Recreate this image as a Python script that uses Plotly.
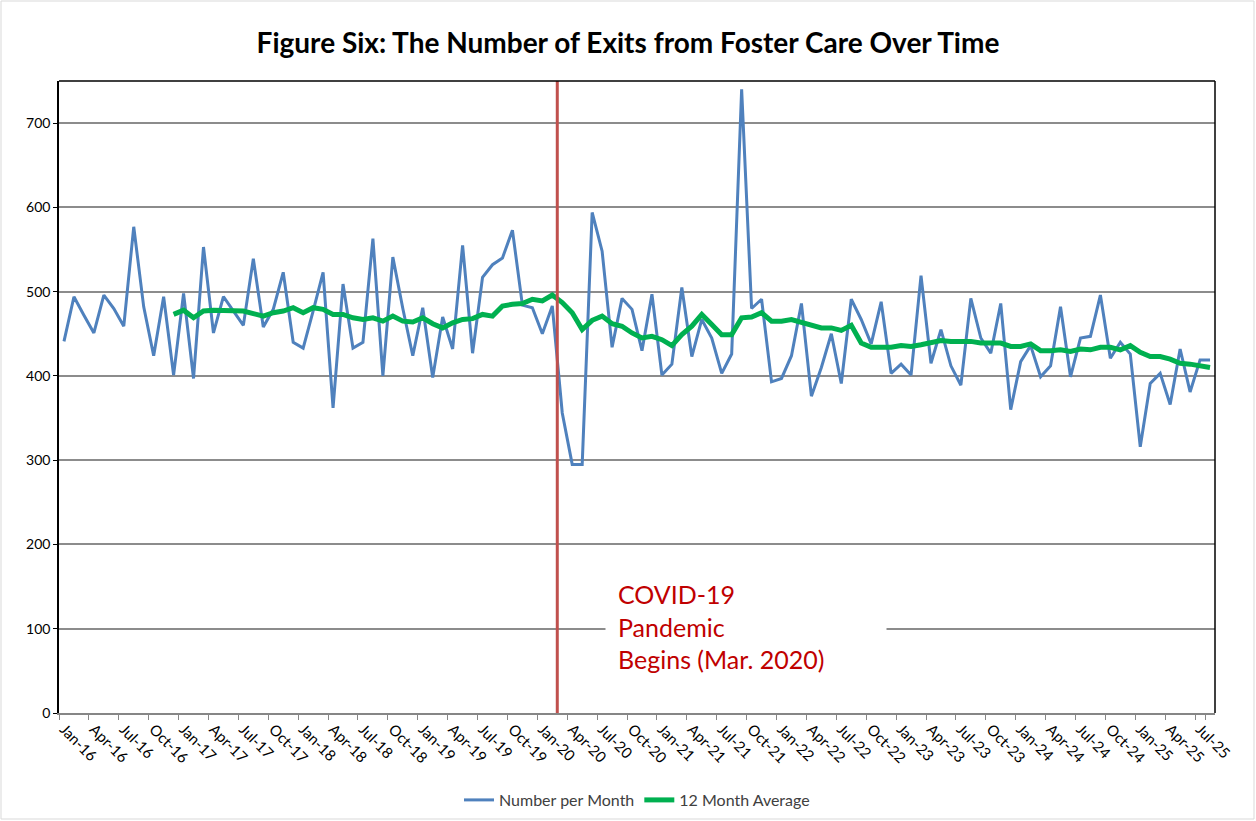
import plotly.graph_objects as go
import pandas as pd

# Categories: monthly, Jan-16 .. Aug-25
months = pd.date_range("2016-01-01", periods=116, freq="MS").strftime("%b-%y").tolist()

# Number of exits per month
exits = [
    441, 494, 472, 451, 496, 480, 459, 577, 482, 424, 494, 401,
    498, 397, 553, 451, 494, 477, 460, 539, 458, 479, 523, 440,
    433, 477, 523, 362, 509, 433, 440, 563, 400, 541, 480, 424,
    481, 398, 470, 432, 555, 427, 517, 532, 540, 573, 484, 481,
    450, 483, 356, 295, 295, 594, 548, 434, 492, 479, 430, 497,
    401, 414, 505, 423, 467, 445, 403, 426, 740, 480, 491, 393,
    397, 424, 486, 376, 410, 450, 391, 491, 467, 438, 488, 403,
    414, 401, 519, 415, 455, 412, 389, 492, 445, 427, 486, 360,
    417, 436, 399, 412, 482, 399, 445, 447, 496, 421, 440, 426,
    316, 391, 403, 366, 432, 381, 419, 419,
]

# 12 month average (starts Dec-16)
avg12 = [None] * 11 + [
    473,
    478, 469, 477, 478, 478, 478, 477, 474, 471, 475, 477, 481,
    475, 481, 479, 473, 473, 469, 467, 469, 465, 471, 465, 464,
    469, 462, 457, 463, 467, 468, 473, 471, 483, 485, 486, 491,
    489, 496, 487, 475, 455, 466, 471, 462, 459, 451, 445, 447,
    443, 436, 449, 459, 473, 461, 449, 449, 469, 470, 475, 465,
    465, 467, 464, 460, 457, 457, 454, 460, 439, 434, 434, 434,
    436, 435, 437, 440, 442, 441, 441, 441, 439, 439, 439, 435,
    435, 438, 430, 430, 431, 429, 432, 431, 434, 434, 431, 436,
    428, 423, 423, 420, 415, 414, 412, 410,
]

tick_labels = months[::3]
covid_month = "Mar-20"
covid_text = "COVID-19<br>Pandemic<br>Begins (Mar. 2020)"

assert len(exits) == len(months) == len(avg12)

FONT = "Lato"

fig = go.Figure()
fig.add_trace(go.Scatter(
    x=months, y=exits, mode="lines", name="Number per Month",
    line=dict(color="#4F81BD", width=3),
))
fig.add_trace(go.Scatter(
    x=months, y=avg12, mode="lines", name="12 Month Average",
    line=dict(color="#00B050", width=5),
))

covid_pos = months.index(covid_month) - 0.5
fig.add_shape(type="line", xref="x", yref="paper", x0=covid_pos, x1=covid_pos,
              y0=0, y1=1, line=dict(color="#C0504D", width=3), layer="above")

fig.add_annotation(
    xref="x", yref="y", x=covid_pos, y=100, xanchor="left", yanchor="middle",
    xshift=48, yshift=2, text=covid_text, showarrow=False, align="left",
    font=dict(family=FONT, size=25, color="#C00000"),
    bgcolor="white", width=256, borderpad=12,
)

# outer chart frame
fig.add_shape(type="rect", xref="paper", yref="paper",
              x0=-58 / 1156, x1=1 + 39 / 1156, y0=-106 / 632, y1=1 + 80 / 632,
              line=dict(color="#D9D9D9", width=1), layer="below")

fig.update_layout(
    width=1256, height=821, autosize=False,
    margin=dict(l=59, r=41, t=81, b=108),
    paper_bgcolor="white", plot_bgcolor="white",
    font=dict(family=FONT, size=15, color="#000000"),
    title=dict(text="<b>Figure Six: The Number of Exits from Foster Care Over Time</b>",
               x=0.5, xanchor="center", y=1 - 43 / 821, yanchor="middle",
               font=dict(family=FONT, size=28, color="#000000")),
    showlegend=True,
    legend=dict(orientation="h", x=0.5, xanchor="center",
                yref="container", y=21 / 821, yanchor="middle",
                font=dict(family=FONT, size=16, color="#404040"), itemwidth=30),
)
fig.update_xaxes(
    type="category", range=[-0.5, len(months) - 0.5],
    tickmode="array", tickvals=tick_labels, ticktext=tick_labels,
    tickson="boundaries", ticks="outside", ticklen=5, tickcolor="#868686",
    tickangle=45, tickfont=dict(family=FONT, size=15, color="#000000"),
    showgrid=False, showline=True, linecolor="#868686", linewidth=1.5,
    mirror=False, zeroline=False, automargin=False,
)
fig.update_yaxes(
    range=[0, 750], tickmode="array", tickvals=list(range(0, 800, 100)),
    ticks="outside", ticklen=4, tickcolor="#000000",
    showgrid=True, gridcolor="#8C8C8C", gridwidth=1.5,
    showline=True, linecolor="#000000", linewidth=1.5, mirror=False,
    zeroline=False, tickfont=dict(family=FONT, size=14, color="#000000"),
    automargin=False,
)
# top and right borders of plot area
fig.add_shape(type="line", xref="paper", yref="paper", x0=0, x1=1, y0=1, y1=1,
              line=dict(color="#000000", width=1.5))
fig.add_shape(type="line", xref="paper", yref="paper", x0=1, x1=1, y0=0, y1=1,
              line=dict(color="#000000", width=1.5))

fig.write_html(
    "out.html",
    config={"responsive": False, "displayModeBar": False},
    post_script="document.body.style.margin='0';",
)
